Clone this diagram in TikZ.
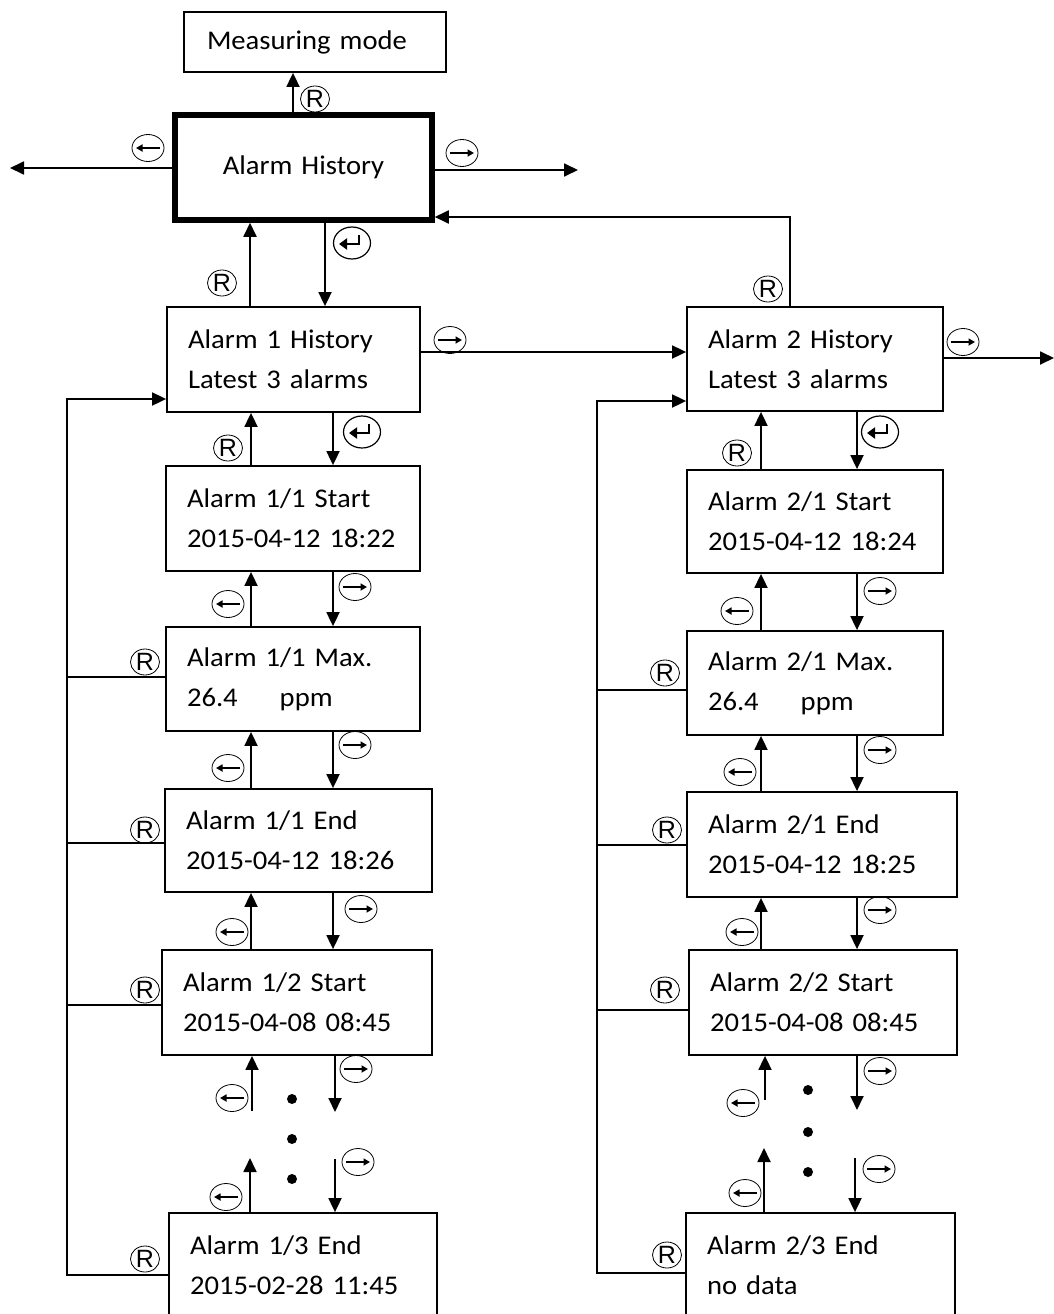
\documentclass[tikz,border=0pt]{standalone}
\usepackage{fontspec}
\setmainfont{Carlito}[FakeStretch=1.06]
\newfontfamily\rfam{Liberation Sans}
\usetikzlibrary{arrows.meta,shapes.geometric}
\newcommand\twoln[2]{\mbox{#1}\\\mbox{#2}}
\tikzset{
  box/.style={draw, line width=1.8pt, rectangle, inner xsep=21pt, inner ysep=0pt, align=left, font=\fontsize{27}{40}\selectfont},
  arr/.style={line width=1.8pt, -{Triangle[length=14pt,width=13pt]}},
  ln/.style={line width=1.8pt},
  dot/.style={circle, fill, inner sep=0pt, minimum size=10pt},
  rkey/.style={draw, ellipse, line width=0.8pt, inner sep=0pt, minimum width=29pt, minimum height=26pt, font=\rfam\fontsize{25}{25}\selectfont},
  lkey/.style={draw, ellipse, line width=0.8pt, inner sep=0pt, minimum width=32pt, minimum height=27pt,
    path picture={\draw[line width=1.7pt,-{Triangle[length=6.5pt,width=7pt]}] ([xshift=12pt]path picture bounding box.center) -- ([xshift=-12pt]path picture bounding box.center);}},
  rtkey/.style={draw, ellipse, line width=0.8pt, inner sep=0pt, minimum width=32pt, minimum height=27pt,
    path picture={\draw[line width=1.7pt,-{Triangle[length=6.5pt,width=7pt]}] ([xshift=-12pt]path picture bounding box.center) -- ([xshift=12pt]path picture bounding box.center);}},
  ekey/.style={draw, ellipse, line width=1.2pt, inner sep=0pt, minimum width=37pt, minimum height=32pt,
    path picture={\draw[line width=2.6pt,-{Triangle[length=8pt,width=11pt]}] ([xshift=7pt,yshift=8pt]path picture bounding box.center) -- ([xshift=7pt,yshift=-1pt]path picture bounding box.center) -- ([xshift=-13pt,yshift=-1pt]path picture bounding box.center);}},
}
\begin{document}
\begin{tikzpicture}[x=1pt,y=-1pt]
\useasboundingbox (0,0) rectangle (1054,1314);
\fill[white] (0,0) rectangle (1054,1314);

% boxes
\node[box, minimum width=262pt, minimum height=60pt, inner xsep=23pt, text width=216pt] (mm) at (315,42) {Measuring mode};
\node[box, line width=5.5pt, minimum width=257pt, minimum height=105pt, text width=215pt, align=center] (ah) at (303.5,167.5) {Alarm History};
\node[box, minimum width=253pt, minimum height=105pt, text width=211pt] (a1h) at (293.5,359.5) {\twoln{Alarm 1 History}{Latest 3 alarms}};
\node[box, minimum width=256pt, minimum height=104pt, text width=214pt] (a2h) at (815,359) {\twoln{Alarm 2 History}{Latest 3 alarms}};

\node[box, minimum width=254pt, minimum height=105pt, text width=212pt] (s11) at (293,518.5) {\twoln{Alarm 1/1 Start}{2015-04-12 18:22}};
\node[box, minimum width=254pt, minimum height=104pt, text width=212pt] (m11) at (293,679) {\twoln{Alarm 1/1 Max.}{26.4\hspace*{42pt}ppm}};
\node[box, minimum width=267pt, minimum height=103pt, text width=225pt] (e11) at (298.5,840.5) {\twoln{Alarm 1/1 End}{2015-04-12 18:26}};
\node[box, minimum width=270pt, minimum height=105pt, text width=228pt] (s12) at (297,1002.5) {\twoln{Alarm 1/2 Start}{2015-04-08 08:45}};
\node[box, minimum width=268pt, minimum height=105pt, text width=226pt] (e13) at (303,1265.5) {\twoln{Alarm 1/3 End}{2015-02-28 11:45}};

\node[box, minimum width=256pt, minimum height=103pt, text width=214pt] (s21) at (815,521.5) {\twoln{Alarm 2/1 Start}{2015-04-12 18:24}};
\node[box, minimum width=256pt, minimum height=104pt, text width=214pt] (m21) at (815,683) {\twoln{Alarm 2/1 Max.}{26.4\hspace*{42pt}ppm}};
\node[box, minimum width=270pt, minimum height=105pt, text width=228pt] (e21) at (822,844.5) {\twoln{Alarm 2/1 End}{2015-04-12 18:25}};
\node[box, minimum width=268pt, minimum height=105pt, text width=226pt] (s22) at (823,1002.5) {\twoln{Alarm 2/2 Start}{2015-04-08 08:45}};
\node[box, minimum width=269pt, minimum height=105pt, text width=227pt] (e23) at (820.5,1265.5) {\twoln{Alarm 2/3 End}{no data}};

% helper coordinates
\coordinate (xmm) at (293,0);
\coordinate (Lfar) at (10,168);
\coordinate (Rfar) at (578,170);
\coordinate (xA) at (250,0);
\coordinate (xB) at (325,0);
\coordinate (xC) at (790,0);
\coordinate (yC) at (0,217);
\coordinate (y352) at (0,352);
\coordinate (Rfar2) at (1054,358);
\coordinate (xLu) at (251,0);
\coordinate (xLd) at (333,0);
\coordinate (xRu) at (761,0);
\coordinate (xRd) at (857,0);
\coordinate (xLL) at (67,0);
\coordinate (xRL) at (597,0);

% top connectors
\draw[arr] (ah.north -| xmm) -- (mm.south -| xmm);
\draw[arr] (ah.west |- Lfar) -- (Lfar);
\draw[arr] (ah.east |- Rfar) -- (Rfar);
\draw[arr] (a1h.north -| xA) -- (ah.south -| xA);
\draw[arr] (ah.south -| xB) -- (a1h.north -| xB);
\draw[arr] (a2h.north -| xC) -- (xC |- yC) -- (ah.east |- yC);
\draw[arr] (a1h.east |- y352) -- (a2h.west |- y352);
\draw[arr] (a2h.east |- Rfar2) -- (Rfar2);

% left column
\draw[arr] (s11.north -| xLu) -- (a1h.south -| xLu);
\draw[arr] (a1h.south -| xLd) -- (s11.north -| xLd);
\draw[arr] (m11.north -| xLu) -- (s11.south -| xLu);
\draw[arr] (s11.south -| xLd) -- (m11.north -| xLd);
\draw[arr] (e11.north -| xLu) -- (m11.south -| xLu);
\draw[arr] (m11.south -| xLd) -- (e11.north -| xLd);
\draw[arr] (s12.north -| xLu) -- (e11.south -| xLu);
\draw[arr] (e11.south -| xLd) -- (s12.north -| xLd);
\coordinate (l1a) at (252,1111);
\coordinate (l1b) at (335,1112);
\coordinate (l2a) at (250,1158);
\coordinate (l2b) at (335,1159);
\draw[arr] (l1a) -- (s12.south -| l1a);
\draw[arr] (s12.south -| l1b) -- (l1b);
\draw[arr] (e13.north -| l2a) -- (l2a);
\draw[arr] (l2b) -- (e13.north -| l2b);
\node[dot] (d1) at (292,1099) {};
\node[dot] (d2) at (292,1139) {};
\node[dot] (d3) at (292,1179) {};

% right column
\draw[arr] (s21.north -| xRu) -- (a2h.south -| xRu);
\draw[arr] (a2h.south -| xRd) -- (s21.north -| xRd);
\draw[arr] (m21.north -| xRu) -- (s21.south -| xRu);
\draw[arr] (s21.south -| xRd) -- (m21.north -| xRd);
\draw[arr] (e21.north -| xRu) -- (m21.south -| xRu);
\draw[arr] (m21.south -| xRd) -- (e21.north -| xRd);
\draw[arr] (s22.north -| xRu) -- (e21.south -| xRu);
\draw[arr] (e21.south -| xRd) -- (s22.north -| xRd);
\coordinate (r1a) at (765,1100);
\coordinate (r1b) at (857,1110);
\coordinate (r2a) at (764,1148);
\coordinate (r2b) at (855,1158);
\draw[arr] (r1a) -- (s22.south -| r1a);
\draw[arr] (s22.south -| r1b) -- (r1b);
\draw[arr] (e23.north -| r2a) -- (r2a);
\draw[arr] (r2b) -- (e23.north -| r2b);
\node[dot] (d4) at (808,1090) {};
\node[dot] (d5) at (808,1132) {};
\node[dot] (d6) at (808,1172) {};

% left loop
\draw[arr] (e13.west |- 0,1275) -| (xLL |- 0,399) -- (a1h.west |- 0,399);
\draw[ln] (m11.west |- 0,677) -- (xLL |- 0,677);
\draw[ln] (e11.west |- 0,843) -- (xLL |- 0,843);
\draw[ln] (s12.west |- 0,1005) -- (xLL |- 0,1005);

% right loop
\draw[arr] (e23.west |- 0,1273) -| (xRL |- 0,401) -- (a2h.west |- 0,401);
\draw[ln] (m21.west |- 0,690) -- (xRL |- 0,690);
\draw[ln] (e21.west |- 0,845) -- (xRL |- 0,845);
\draw[ln] (s22.west |- 0,1010) -- (xRL |- 0,1010);

% key labels
\node[rkey] (k1) at (315,99) {R};
\node[lkey] (k2) at (148,148) {};
\node[rtkey] (k3) at (462,153) {};
\node[rkey] (k4) at (222,283) {R};
\node[ekey] (k5) at (352,243) {};
\node[rkey] (k6) at (768,289) {R};
\node[rtkey] (k7) at (450,340) {};
\node[rtkey] (k8) at (963,342) {};

\node[rkey] (k9) at (228,448) {R};
\node[ekey] (k10) at (362,432) {};
\node[rtkey] (k11) at (355,587) {};
\node[lkey] (k12) at (228,604) {};
\node[rtkey] (k13) at (355,745) {};
\node[lkey] (k14) at (228,768) {};
\node[rtkey] (k15) at (361,909) {};
\node[lkey] (k16) at (232,932) {};
\node[rtkey] (k17) at (356,1069) {};
\node[lkey] (k18) at (232,1098) {};
\node[rtkey] (k19) at (358,1162) {};
\node[lkey] (k20) at (226,1197) {};

\node[rkey] (k21) at (145,662) {R};
\node[rkey] (k22) at (145,830) {R};
\node[rkey] (k23) at (145,990) {R};
\node[rkey] (k24) at (145,1259) {R};

\node[ekey] (k25) at (880,432) {};
\node[rkey] (k26) at (737,453) {R};
\node[rtkey] (k27) at (880,591) {};
\node[lkey] (k28) at (737,611) {};
\node[rtkey] (k29) at (880,750) {};
\node[lkey] (k30) at (740,772) {};
\node[rtkey] (k31) at (880,910) {};
\node[lkey] (k32) at (742,932) {};
\node[rtkey] (k33) at (880,1071) {};
\node[lkey] (k34) at (743,1103) {};
\node[rtkey] (k35) at (879,1169) {};
\node[lkey] (k36) at (745,1193) {};

\node[rkey] (k37) at (665,673) {R};
\node[rkey] (k38) at (667,830) {R};
\node[rkey] (k39) at (665,990) {R};
\node[rkey] (k40) at (667,1255) {R};
\end{tikzpicture}
\end{document}
